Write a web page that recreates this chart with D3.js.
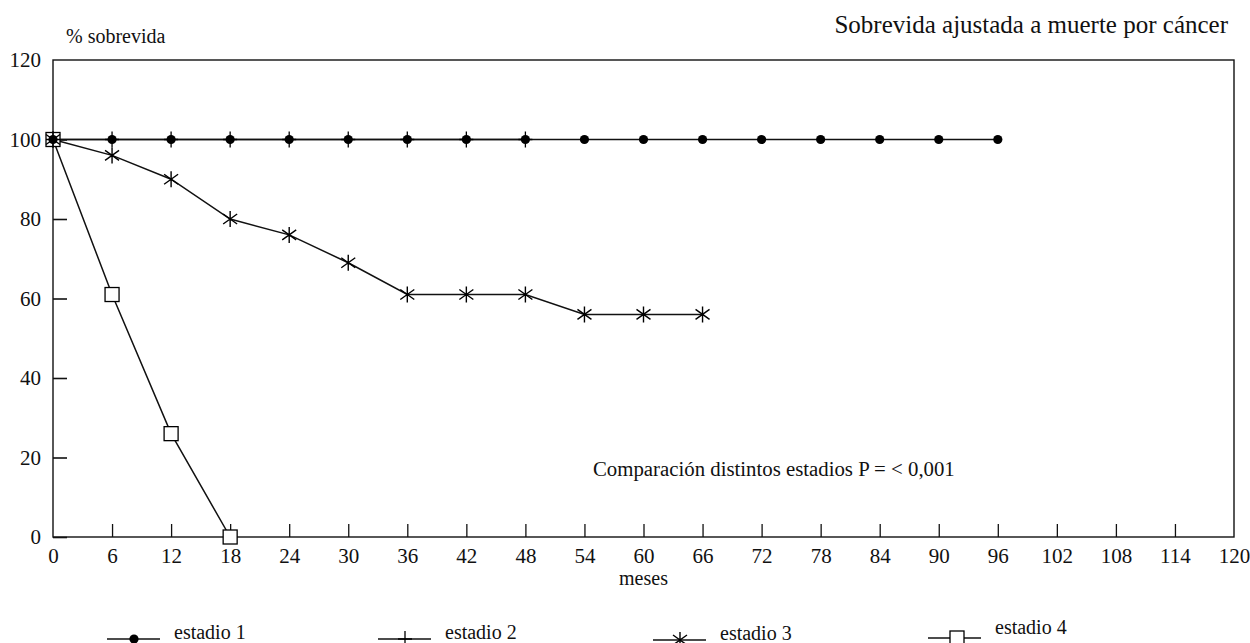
<!DOCTYPE html>
<html>
<head>
<meta charset="utf-8">
<script src="https://cdn.jsdelivr.net/npm/d3@7"></script>
<style>
  body { margin: 0; background: #fff; }
  svg text { font-family: "Liberation Serif", "DejaVu Serif", serif; fill: #111; }
</style>
</head>
<body>
<svg id="chart" width="1250" height="643"></svg>
<script>
// data
const xTicks = d3.range(0, 121, 6);
const yTicks = [0, 20, 40, 60, 80, 100, 120];

const estadio1 = [[0,100],[6,100],[12,100],[18,100],[24,100],[30,100],[36,100],[42,100],[48,100],
  [54,100],[60,100],[66,100],[72,100],[78,100],[84,100],[90,100],[96,100]];
const estadio2 = [[0,100],[6,100],[12,100],[18,100],[24,100],[30,100],[36,100],[42,100],[48,100]];
const estadio3 = [[0,100],[6,96],[12,90],[18,80],[24,76],[30,69],[36,61],[42,61],[48,61],
  [54,56],[60,56],[66,56]];
const estadio4 = [[0,100],[6,61],[12,26],[18,0]];

const seriesNames = ["estadio 1", "estadio 2", "estadio 3", "estadio 4"];

const svg = d3.select("#chart");
const margin = {left: 53, right: 16, top: 60, bottom: 106};
const W = 1250, H = 643;

const x = d3.scaleLinear().domain([0, 120]).range([margin.left, W - margin.right]);
const y = d3.scaleLinear().domain([0, 120]).range([H - margin.bottom, margin.top]);

// marker drawers
function marker(g, kind) {
  if (kind === 0) {
    g.append("circle").attr("r", 4.6).attr("fill", "#000");
  } else if (kind === 1) {
    g.append("path").attr("d", "M0,-8V8M-7,0H7").attr("stroke", "#000").attr("stroke-width", 1.3).attr("fill", "none");
  } else if (kind === 2) {
    g.append("path").attr("d", "M0,-8V8M-7,-5L7,5M-7,5L7,-5").attr("stroke", "#000").attr("stroke-width", 1.4).attr("fill", "none");
  } else {
    g.append("rect").attr("x", -7).attr("y", -7).attr("width", 14).attr("height", 14)
      .attr("fill", "#fff").attr("stroke", "#000").attr("stroke-width", 1.3);
  }
}

// frame
svg.append("rect")
  .attr("x", x(0)).attr("y", y(120))
  .attr("width", x(120) - x(0)).attr("height", y(0) - y(120))
  .attr("fill", "none").attr("stroke", "#111").attr("stroke-width", 1.4);

// axes
const yAxis = d3.axisLeft(y).tickValues(yTicks).tickSize(-14).tickPadding(12).tickFormat(d3.format("d"));
const gy = svg.append("g").attr("transform", `translate(${x(0)},0)`).call(yAxis);
gy.select(".domain").remove();
gy.selectAll(".tick line").attr("stroke", "#111").attr("stroke-width", 1.6);
gy.selectAll(".tick text").attr("font-size", 21);
gy.selectAll(".tick").filter(d => d === 120).select("line").remove();

const xAxis = d3.axisBottom(x).tickValues(xTicks).tickSize(-13).tickPadding(11).tickFormat(d3.format("d"));
const gx = svg.append("g").attr("transform", `translate(0,${y(0)})`).call(xAxis);
gx.select(".domain").remove();
gx.selectAll(".tick line").attr("stroke", "#111").attr("stroke-width", 1.3);
gx.selectAll(".tick text").attr("font-size", 21);
gx.selectAll(".tick").filter(d => d === 0 || d === 120).select("line").remove();

// labels
svg.append("text").attr("x", x(60)).attr("y", 585).attr("text-anchor", "middle")
  .attr("font-size", 20).text("meses");
svg.append("text").attr("x", 66).attr("y", 43).attr("font-size", 20).text("% sobrevida");
svg.append("text").attr("x", 1228).attr("y", 33).attr("text-anchor", "end")
  .attr("font-size", 25).text("Sobrevida ajustada a muerte por cáncer");
svg.append("text").attr("x", 593).attr("y", 476).attr("font-size", 20.8)
  .text("Comparación distintos estadios P = < 0,001");

// series
const line = d3.line().x(d => x(d[0])).y(d => y(d[1]));
const allSeries = [estadio1, estadio2, estadio3, estadio4];
allSeries.forEach((data, i) => {
  svg.append("path").datum(data).attr("d", line)
    .attr("fill", "none").attr("stroke", "#111").attr("stroke-width", 1.5);
});
// draw markers, squares last so they sit on top at start point
[3, 2, 1, 0].forEach(i => {
  svg.append("g").selectAll("g").data(allSeries[i]).join("g")
    .attr("transform", d => `translate(${x(d[0])},${y(d[1])})`)
    .each(function() { marker(d3.select(this), i); });
});

// legend
const legendX = [107, 378, 653, 928];
const legendY = [639, 639, 640, 638];
seriesNames.forEach((name, i) => {
  const g = svg.append("g").attr("transform", `translate(${legendX[i]},${legendY[i]})`);
  g.append("line").attr("x1", 0).attr("x2", 53).attr("stroke", "#111").attr("stroke-width", 1.4);
  const m = g.append("g").attr("transform", `translate(${i === 3 ? 29 : 27},0)`);
  marker(m, i);
  g.append("text").attr("x", 67).attr("y", i === 3 ? -4 : 0).attr("font-size", 20).text(name);
});
</script>
</body>
</html>
